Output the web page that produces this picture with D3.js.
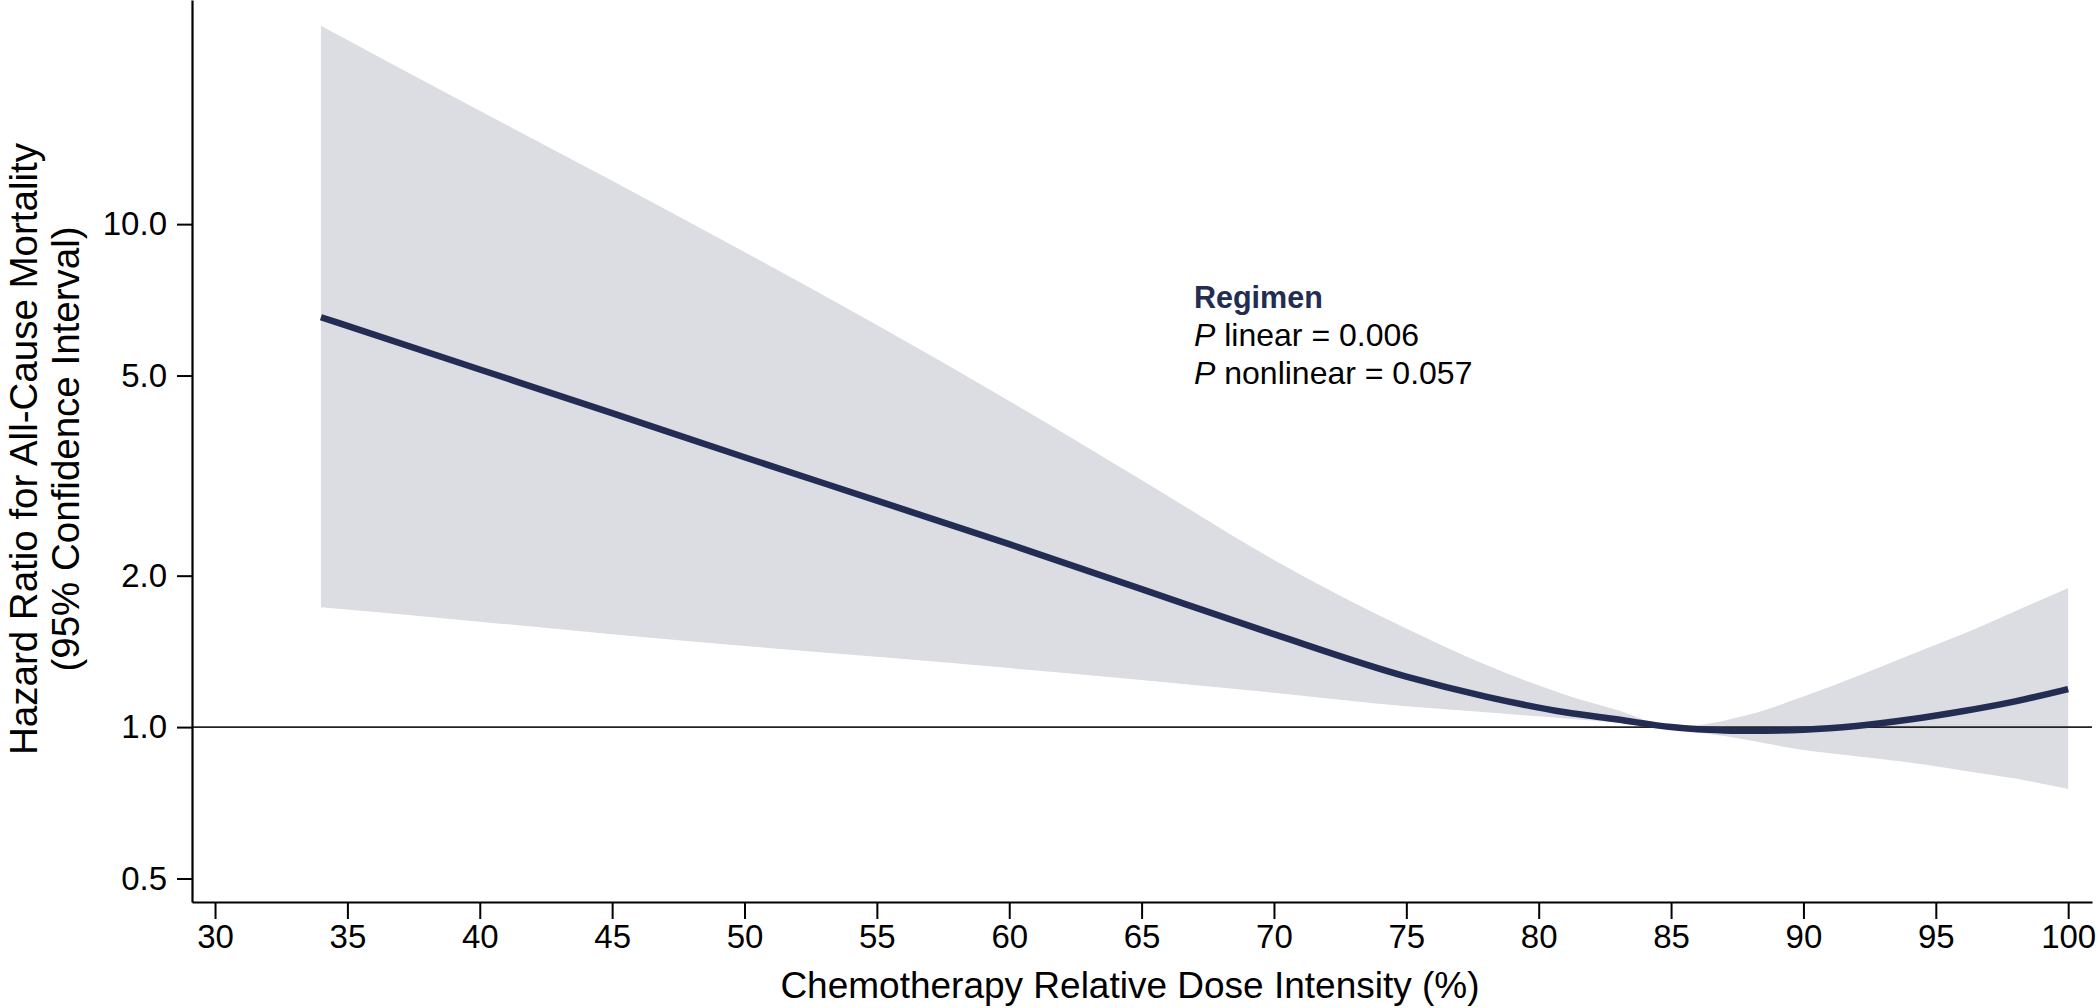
<!DOCTYPE html>
<html>
<head>
<meta charset="utf-8">
<script src="https://cdn.jsdelivr.net/npm/d3@7"></script>
<style>
  html, body { margin: 0; padding: 0; background: #ffffff; }
  svg { display: block; }
  text { font-family: "Liberation Sans", Arial, Helvetica, sans-serif; fill: #000; }
</style>
</head>
<body>
<svg id="chart" width="2100" height="1008"></svg>
<script>
// ---- data ----
const doseIntensity = [34, 40, 45, 50, 55, 60, 65, 70, 75, 78, 81, 83, 85, 86, 87, 88, 90, 92, 94, 96, 98, 100];
const hazardRatio   = [6.53, 5.14, 4.21, 3.44, 2.82, 2.31, 1.88, 1.53, 1.26, 1.15, 1.07, 1.035, 1.0, 0.99, 0.985, 0.983, 0.988, 1.005, 1.035, 1.075, 1.125, 1.19];
const upperCI       = [24.8, 16.8, 12.2, 8.8, 6.3, 4.45, 3.1, 2.15, 1.57, 1.33, 1.16, 1.08, 1.005, 1.01, 1.03, 1.06, 1.15, 1.26, 1.39, 1.53, 1.70, 1.89];
const lowerCI       = [1.73, 1.62, 1.53, 1.45, 1.38, 1.31, 1.24, 1.17, 1.10, 1.07, 1.04, 1.02, 0.995, 0.975, 0.96, 0.94, 0.90, 0.875, 0.85, 0.82, 0.79, 0.753];
const xTicks = [30, 35, 40, 45, 50, 55, 60, 65, 70, 75, 80, 85, 90, 95, 100];
const yTicks = [0.5, 1.0, 2.0, 5.0, 10.0];
const referenceHR = 1.0;
const annotationTitle = "Regimen";
const pLinear = "0.006";
const pNonlinear = "0.057";
const xTitle = "Chemotherapy Relative Dose Intensity (%)";
const yTitle1 = "Hazard Ratio for All-Cause Mortality";
const yTitle2 = "(95% Confidence Interval)";

(function () {
  // ---- layout ----
  const svg = d3.select("#chart");
  const plotLeft = 192, plotRight = 2092, plotTop = 0, plotBottom = 902;

  const x = d3.scaleLinear().domain([29.13, 100.9]).range([plotLeft, plotRight]);
  const y = d3.scaleLog().domain([0.449, 27.9]).range([plotBottom, plotTop]);

  const rows = doseIntensity.map((d, i) => ({x: d, hr: hazardRatio[i], lo: lowerCI[i], hi: upperCI[i]}));

  // CI band
  const area = d3.area()
    .x(d => x(d.x))
    .y0(d => y(d.lo))
    .y1(d => y(d.hi))
    .curve(d3.curveMonotoneX);
  svg.append("path").datum(rows)
    .attr("d", area)
    .attr("fill", "#dcdde2");

  // reference line at HR = 1
  svg.append("line")
    .attr("x1", plotLeft).attr("x2", plotRight)
    .attr("y1", y(referenceHR)).attr("y2", y(referenceHR))
    .attr("stroke", "#222").attr("stroke-width", 1.6);

  // hazard ratio curve
  const line = d3.line()
    .x(d => x(d.x))
    .y(d => y(d.hr))
    .curve(d3.curveMonotoneX);
  svg.append("path").datum(rows)
    .attr("d", line)
    .attr("fill", "none")
    .attr("stroke", "#232c52")
    .attr("stroke-width", 6.5);

  // axes
  const xAxis = d3.axisBottom(x).tickValues(xTicks).tickSize(17).tickPadding(6).tickSizeOuter(0)
    .tickFormat(d3.format("d"));
  const gx = svg.append("g").attr("transform", `translate(0,${plotBottom})`).call(xAxis);
  gx.select(".domain").attr("stroke", "#000").attr("stroke-width", 2.2);
  gx.selectAll(".tick line").attr("stroke", "#000").attr("stroke-width", 2);
  gx.selectAll(".tick text").attr("font-size", 33).attr("font-family", "Liberation Sans, Arial, sans-serif").attr("fill", "#000");

  const yAxis = d3.axisLeft(y).tickValues(yTicks).tickSize(15).tickPadding(10).tickSizeOuter(0)
    .tickFormat(d3.format(".1f"));
  const gy = svg.append("g").attr("transform", `translate(${plotLeft},0)`).call(yAxis);
  gy.select(".domain").attr("stroke", "#000").attr("stroke-width", 2.2);
  gy.selectAll(".tick line").attr("stroke", "#000").attr("stroke-width", 2);
  gy.selectAll(".tick text").attr("font-size", 33).attr("font-family", "Liberation Sans, Arial, sans-serif").attr("fill", "#000");

  // axis titles
  svg.append("text")
    .attr("x", 1130).attr("y", 998)
    .attr("text-anchor", "middle")
    .attr("font-size", 37)
    .text(xTitle);

  const yt = svg.append("text")
    .attr("transform", "translate(0,449) rotate(-90)")
    .attr("text-anchor", "middle")
    .attr("font-size", 38.5);
  yt.append("tspan").attr("x", 0).attr("y", 37).text(yTitle1);
  yt.append("tspan").attr("x", 0).attr("y", 79).text(yTitle2);

  // annotation
  const ax = 1194;
  svg.append("text").attr("x", ax).attr("y", 308)
    .attr("font-size", 30.5).attr("font-weight", "bold")
    .style("fill", "#232c52")
    .text(annotationTitle);
  const t1 = svg.append("text").attr("x", ax).attr("y", 346).attr("font-size", 32);
  t1.append("tspan").attr("font-style", "italic").text("P");
  t1.append("tspan").text(" linear = " + pLinear);
  const t2 = svg.append("text").attr("x", ax).attr("y", 384).attr("font-size", 32);
  t2.append("tspan").attr("font-style", "italic").text("P");
  t2.append("tspan").text(" nonlinear = " + pNonlinear);
})();
</script>
</body>
</html>
